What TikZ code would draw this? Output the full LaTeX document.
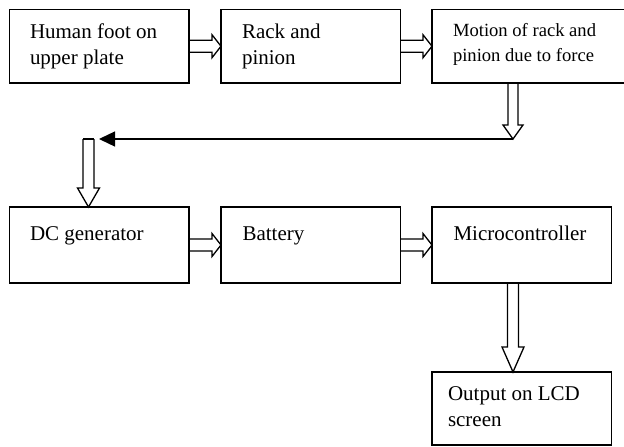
\documentclass[tikz,border=0pt]{standalone}
\usepackage{fontspec}
\setmainfont{Liberation Serif}
\usetikzlibrary{calc,arrows.meta}

\tikzset{
  box/.style={draw, line width=1.3pt, rectangle, anchor=north west,
    minimum width=179.5pt, inner sep=0pt, outer sep=0pt},
  lbl/.style={anchor=north west, inner sep=0pt, outer sep=0pt, align=left,
    font=\fontsize{21}{26}\selectfont},
  smalllbl/.style={lbl, font=\fontsize{18.6}{25}\selectfont},
  hollow/.style={draw, line width=1.3pt, line join=miter},
  feed/.style={draw, line width=1.3pt, -{Triangle[length=16pt,width=15pt]}},
}

% horizontal block arrow from the east side of #1 to the west side of #2
\newcommand\blockright[2]{%
  \draw[hollow] ($(#1.east)+(0,-6)$) -- ($(#2.west)+(-9,-6)$)
    -- ($(#2.west)+(-9,-11.5)$) -- (#2.west) -- ($(#2.west)+(-9,11.5)$)
    -- ($(#2.west)+(-9,6)$) -- ($(#1.east)+(0,6)$);}

% vertical block arrow: start #1, tip #2, shaft half width #3,
% head half width #4, head length #5
\newcommand\blockdown[5]{%
  \draw[hollow] ($(#1)+(-#3,0)$) -- ($(#2)+(-#3,-#5)$) -- ($(#2)+(-#4,-#5)$)
    -- (#2) -- ($(#2)+(#4,-#5)$) -- ($(#2)+(#3,-#5)$) -- ($(#1)+(#3,0)$);}

\begin{document}
\begin{tikzpicture}[x=1pt, y=-1pt]
  \useasboundingbox (0,0) rectangle (624,447);
  \clip (0,0) rectangle (624,447);

  % first row
  \node[box, minimum height=73.5pt] (foot) at (9.5,9.5) {};
  \node[box, minimum height=73.5pt] (rack) at (221,9.5) {};
  \node[box, minimum height=73.5pt, minimum width=200pt] (motion) at (432,9.5) {};

  % second row
  \node[box, minimum height=76pt] (gen) at (9.5,207) {};
  \node[box, minimum height=76pt] (batt) at (221,207) {};
  \node[box, minimum height=76pt] (mcu) at (432,207) {};

  % output
  \node[box, minimum height=73pt] (lcd) at (432,372) {};

  % texts
  \node[lbl] (footT) at ($(foot.north west)+(20.5,10.8)$) {\strut Human foot on\\upper plate};
  \node[lbl] (rackT) at ($(rack.north west)+(21,10.8)$) {\strut Rack and\\pinion};
  \node[smalllbl] (motionT) at ($(motion.north west)+(21,9)$) {\strut Motion of rack and\\pinion due to force};
  \node[lbl] (genT) at ($(gen.north west)+(20.5,14.8)$) {\strut DC generator};
  \node[lbl] (battT) at ($(batt.north west)+(21.5,14.8)$) {\strut Battery};
  \node[lbl] (mcuT) at ($(mcu.north west)+(21.5,14.8)$) {\strut Microcontroller};
  \node[lbl] (lcdT) at ($(lcd.north west)+(16,9.8)$) {\strut Output on LCD\\screen};

  % block arrows along the rows
  \blockright{foot}{rack}
  \blockright{rack}{motion}
  \blockright{gen}{batt}
  \blockright{batt}{mcu}

  % from the motion box down to the return line
  \coordinate (s1) at ($(motion.south west)+(81,0)$);
  \coordinate (t1) at ($(s1)+(0,56)$);
  \blockdown{s1}{t1}{5}{10}{14}

  % return line to the left
  \coordinate (k1) at (99,139);
  \draw[feed] (t1) -- (k1);

  % down into the generator
  \coordinate (s2) at (88.5,139);
  \coordinate (t2) at ($(gen.north west)+(79,0)$);
  \blockdown{s2}{t2}{5.5}{11}{19}
  \draw[hollow] ($(s2)+(-5.5,0)$) -- ($(s2)+(5.5,0)$);

  % microcontroller to display
  \coordinate (s3) at ($(mcu.south west)+(81,0)$);
  \coordinate (t3) at ($(lcd.north west)+(81,0)$);
  \blockdown{s3}{t3}{5.5}{11}{25}
\end{tikzpicture}
\end{document}
